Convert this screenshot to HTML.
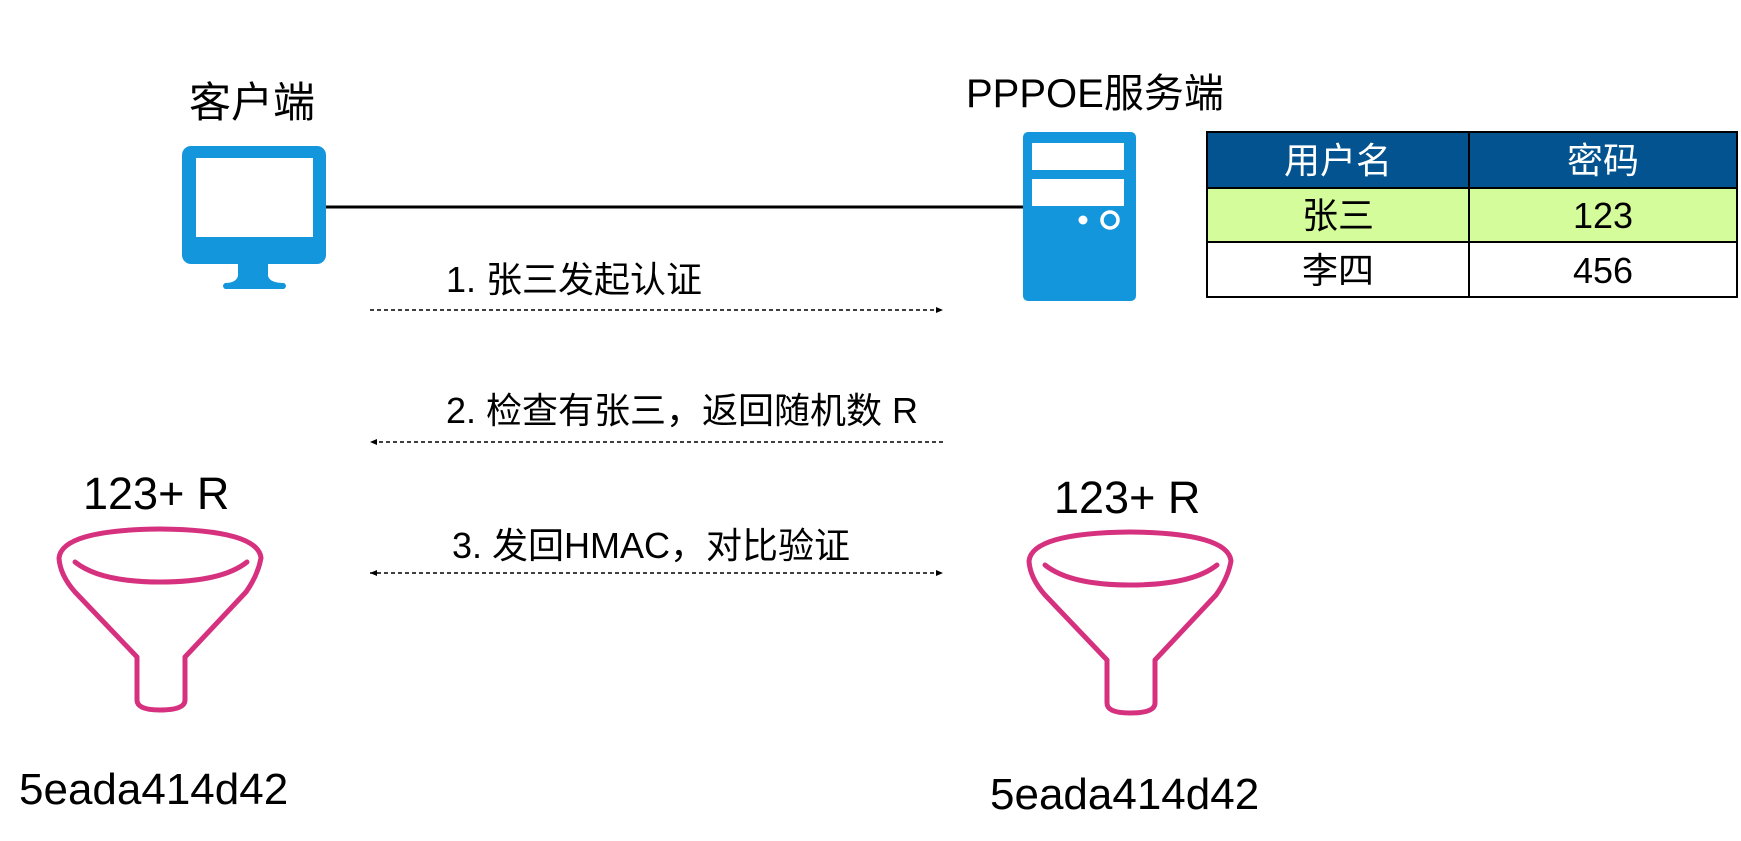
<!DOCTYPE html>
<html><head><meta charset="utf-8"><style>
html,body{margin:0;padding:0;background:#fff;}
body{width:1741px;height:836px;overflow:hidden;}
text{font-family:"Liberation Sans","Noto Sans CJK SC",sans-serif;}
</style></head><body>
<svg width="1741" height="836" viewBox="0 0 1741 836" xmlns="http://www.w3.org/2000/svg">
<defs>
<marker id="ah" markerWidth="8" markerHeight="8" refX="7" refY="4" orient="auto-start-reverse" markerUnits="userSpaceOnUse">
<path d="M0,1 L7,4 L0,7 Z" fill="#000"/></marker>
<g id="funnel">
<path d="M59,558 Q62,530 160,529 Q258,530 261,558 Q258,575 246,592 L185,657 L185,700 Q185,710 160,710 Q137,710 137,700 L137,657 L75,592 Q60,575 59,558 Z"/>
<path d="M75,562 Q100,582 160,582 Q222,582 247,562"/>
</g>
</defs>
<!-- client -->
<text x="252" y="117" font-size="42" text-anchor="middle" fill="#000">客户端</text>
<rect x="182" y="146" width="144" height="118" rx="9" fill="#1496dc"/>
<rect x="196" y="158" width="117" height="79" fill="#fff"/>
<path d="M238,262 L268,262 L268,276 Q270,283 284,283 Q288,286 284,289 L225,289 Q221,286 225,283 Q236,283 238,276 Z" fill="#1496dc"/>
<line x1="326" y1="207" x2="1023" y2="207" stroke="#000" stroke-width="3"/>
<!-- server -->
<text x="966" y="107" font-size="40" fill="#000">PPPOE服务端</text>
<rect x="1023" y="132" width="113" height="169" rx="5" fill="#1496dc"/>
<rect x="1032" y="143" width="92" height="27" fill="#fff"/>
<rect x="1032" y="179" width="92" height="27" fill="#fff"/>
<circle cx="1083" cy="220" r="4.5" fill="#fff"/>
<circle cx="1110" cy="220" r="8" fill="none" stroke="#fff" stroke-width="3.5"/>
<!-- table -->
<rect x="1207" y="132" width="530" height="56" fill="#02538f"/>
<rect x="1207" y="188" width="530" height="54" fill="#d4fc9b"/>
<rect x="1207" y="132" width="530" height="165" fill="none" stroke="#000" stroke-width="2"/>
<line x1="1207" y1="188" x2="1737" y2="188" stroke="#000" stroke-width="2"/>
<line x1="1207" y1="242" x2="1737" y2="242" stroke="#000" stroke-width="2"/>
<line x1="1469" y1="132" x2="1469" y2="297" stroke="#000" stroke-width="2"/>
<g font-size="36" text-anchor="middle">
<text x="1338" y="173" fill="#fff">用户名</text>
<text x="1603" y="173" fill="#fff">密码</text>
<text x="1338" y="228" fill="#000">张三</text>
<text x="1603" y="228" fill="#000">123</text>
<text x="1338" y="283" fill="#000">李四</text>
<text x="1603" y="283" fill="#000">456</text>
</g>
<!-- arrows -->
<g font-size="36" fill="#000">
<text x="446" y="292">1. 张三发起认证</text>
<text x="446" y="423">2. 检查有张三，返回随机数 R</text>
<text x="452" y="558">3. 发回HMAC，对比验证</text>
</g>
<g stroke="#000" stroke-width="1.5" stroke-dasharray="4,3" fill="none">
<line x1="370" y1="310" x2="943" y2="310" marker-end="url(#ah)"/>
<line x1="943" y1="442" x2="370" y2="442" marker-end="url(#ah)"/>
<line x1="370" y1="573" x2="943" y2="573" marker-start="url(#ah)" marker-end="url(#ah)"/>
</g>
<!-- funnels -->
<g font-size="45" fill="#000">
<text x="83" y="509">123+ R</text>
<text x="1054" y="513">123+ R</text>
<text x="19" y="804" font-size="44">5eada414d42</text>
<text x="990" y="809" font-size="44">5eada414d42</text>
</g>
<g fill="none" stroke="#d6317f" stroke-width="5" stroke-linecap="round" stroke-linejoin="round">
<use href="#funnel"/>
<use href="#funnel" transform="translate(970,3)"/>
</g>
</svg>
</body></html>
